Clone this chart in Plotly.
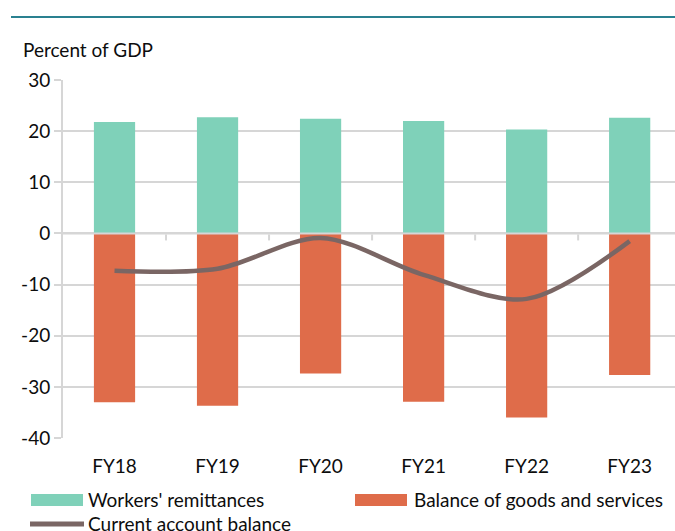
import plotly.graph_objects as go

# Fiscal years and series, percent of GDP
years = ["FY18", "FY19", "FY20", "FY21", "FY22", "FY23"]
remittances = [21.8, 22.7, 22.4, 22.0, 20.3, 22.6]
goods_services = [-33.0, -33.7, -27.4, -32.9, -36.0, -27.7]
current_account = [-7.3, -6.9, -0.9, -8.1, -12.8, -1.5]

# value axis ticks, labelled with plain hyphens
y_ticks = [30, 20, 10, 0, -10, -20, -30, -40]
y_tick_labels = ["30", "20", "10", "0", "-10", "-20", "-30", "-40"]

name_rem = "Workers' remittances"
name_gs = "Balance of goods and services"
name_ca = "Current account balance"

GREEN = "#7fd1b9"
ORANGE = "#df6c4a"
LINE = "#7a6664"
GRID = "#d6d6d6"
TEAL = "#2a8190"
TEXT = "#0d0d0d"
FONT = "Lato"
FS = 19

W, H = 675, 531
L, R, T, B = 63, 0, 80, 93
PW, PH = W - L - R, H - T - B


def px_x(p):
    return (p - L) / PW


def px_y(p):
    return (H - B - p) / PH


fig = go.Figure()
fig.add_trace(go.Bar(x=years, y=remittances, name=name_rem,
                     marker=dict(color=GREEN, line=dict(width=0)), width=0.4))
fig.add_trace(go.Bar(x=years, y=goods_services, name=name_gs,
                     marker=dict(color=ORANGE, line=dict(width=0)), width=0.4))
fig.add_trace(go.Scatter(x=years, y=current_account, name=name_ca, mode="lines",
                         line=dict(color=LINE, width=4.5, shape="spline", smoothing=0.9)))

shapes = []
# zero line over the bars
shapes.append(dict(type="line", xref="paper", yref="y", x0=0, x1=1, y0=0, y1=0,
                   line=dict(color=GRID, width=2), layer="above"))
# category separator ticks on the zero line
for k in range(len(years) - 1):
    shapes.append(dict(type="line", xref="x", yref="y", x0=k + 0.5, x1=k + 0.5,
                       ysizemode="pixel", yanchor=0, y0=-1, y1=-7,
                       line=dict(color=GRID, width=2), layer="below"))
# header rule
shapes.append(dict(type="line", xref="paper", yref="paper", x0=px_x(11), x1=1,
                   y0=px_y(17), y1=px_y(17), line=dict(color=TEAL, width=2)))
# legend swatches
shapes.append(dict(type="rect", xref="paper", yref="paper", x0=px_x(31), x1=px_x(83),
                   y0=px_y(506), y1=px_y(494), fillcolor=GREEN, line=dict(width=0)))
shapes.append(dict(type="rect", xref="paper", yref="paper", x0=px_x(355), x1=px_x(407),
                   y0=px_y(506), y1=px_y(494), fillcolor=ORANGE, line=dict(width=0)))
shapes.append(dict(type="line", xref="paper", yref="paper", x0=px_x(30), x1=px_x(84),
                   y0=px_y(524), y1=px_y(524), line=dict(color=LINE, width=5)))

txt_font = dict(family=FONT, size=FS, color=TEXT)
annotations = [
    dict(text="Percent of GDP", xref="paper", yref="paper", x=px_x(21), y=px_y(50),
         xanchor="left", yanchor="middle", showarrow=False, font=txt_font),
    dict(text=name_rem, xref="paper", yref="paper", x=px_x(86), y=px_y(499),
         xanchor="left", yanchor="middle", showarrow=False, font=txt_font),
    dict(text=name_gs, xref="paper", yref="paper", x=px_x(412), y=px_y(499),
         xanchor="left", yanchor="middle", showarrow=False, font=txt_font),
    dict(text=name_ca, xref="paper", yref="paper", x=px_x(86), y=px_y(523),
         xanchor="left", yanchor="middle", showarrow=False, font=txt_font),
]

fig.update_layout(
    width=W, height=H,
    margin=dict(l=L, r=R, t=T, b=B),
    paper_bgcolor="white", plot_bgcolor="white",
    barmode="relative",
    showlegend=False,
    font=txt_font,
    shapes=shapes,
    annotations=annotations,
)
fig.update_xaxes(type="category", range=[-0.5, 5.44], showgrid=False, zeroline=False,
                 showline=False, ticks="", ticklabelstandoff=15, tickfont=txt_font)
fig.update_yaxes(range=[-40, 30], tickvals=y_ticks, ticktext=y_tick_labels,
                 showgrid=True, gridcolor=GRID, gridwidth=2,
                 zeroline=False, showline=True, linecolor=GRID, linewidth=2,
                 ticks="outside", ticklen=7, tickcolor=GRID, tickwidth=2,
                 ticklabelstandoff=0, tickfont=txt_font)

fig.write_html("out.html")
